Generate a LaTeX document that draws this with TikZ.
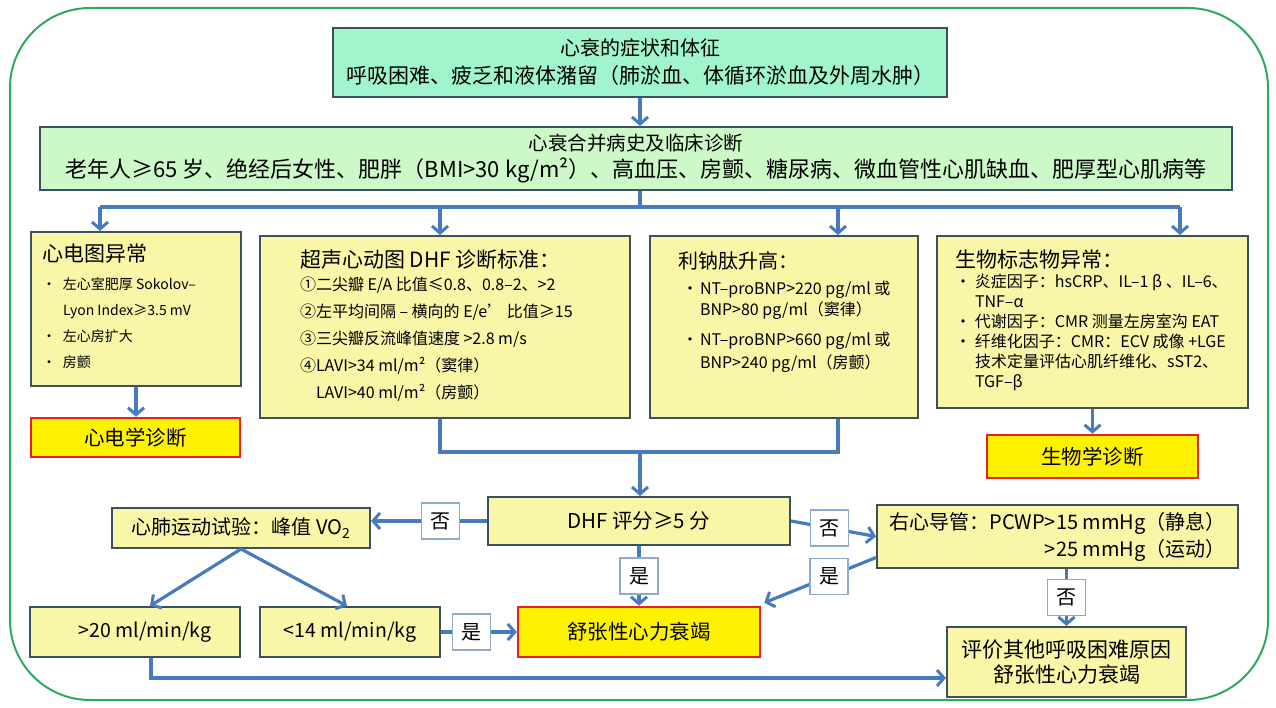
\documentclass[tikz,border=0pt]{standalone}
\usepackage{fontspec}
\setmainfont{Noto Sans CJK SC}
\usetikzlibrary{arrows.meta,calc}
\definecolor{grn}{RGB}{45,170,95}
\definecolor{bord}{RGB}{60,80,100}
\definecolor{ylw}{RGB}{250,246,168}
\definecolor{mint}{RGB}{160,245,205}
\definecolor{lgrn}{RGB}{205,248,200}
\definecolor{arrc}{RGB}{72,122,190}
\definecolor{labc}{RGB}{140,170,205}
\definecolor{redc}{RGB}{232,32,32}
\newcommand\fs[2]{\fontsize{#1}{#2}\selectfont}
\newcommand\inbox[5]{\parbox[c][#2][t]{#1}{\raggedright\leftskip=#3\relax\vspace*{#4}#5}}
\tikzset{
 box/.style={draw=bord, line width=2pt, inner sep=0pt, align=center},
 ybox/.style={box, fill=ylw},
 rbox/.style={draw=redc, fill=yellow, line width=2.5pt, inner sep=0pt, align=center, font=\fs{20.5}{24}},
 lab/.style={draw=labc, fill=white, line width=1.3pt, minimum width=38pt, minimum height=36pt, inner sep=0pt, font=\fs{20}{24}},
 con/.style={draw=arrc, line width=3.2pt},
 arr/.style={con, -{Straight Barb[length=7pt,width=16pt,line width=3pt]}},
}
\begin{document}
\begin{tikzpicture}[x=1pt,y=-1pt]
\useasboundingbox (0,0) rectangle (1276,708);
\fill[white] (0,0) rectangle (1276,708);
\draw[grn, line width=2pt, rounded corners=80pt] (10,8) rectangle (1268,700);

% top boxes
\node[box, fill=mint, minimum width=614pt, minimum height=69pt, font=\fs{21}{28}] (sym) at (640,62.5)
 {{\fs{20}{28}心衰的症状和体征}\\呼吸困难、疲乏和液体潴留（肺淤血、体循环淤血及外周水肿）};
\node[box, fill=lgrn, minimum width=1192pt, minimum height=63pt, font=\fs{19.5}{27}] (hist) at (636,158.5)
 {心衰合并病史及临床诊断\\{\fs{22}{27}老年人≥65 岁、绝经后女性、肥胖（BMI>30 kg/m²）、高血压、房颤、糖尿病、微血管性心肌缺血、肥厚型心肌病等}};

% four criteria boxes
\node[ybox] (ecg) at (136,309) {\inbox{210pt}{154pt}{11pt}{12pt}{%
{\fs{21}{26}心电图异常\par}
{\fs{14}{28}\makebox[21pt][l]{·}左心室肥厚 Sokolov–\par}
{\fs{14}{26}\hspace*{21pt}Lyon Index≥3.5 mV\par
\makebox[21pt][l]{·}左心房扩大\par
\makebox[21pt][l]{·}房颤\par}}};

\node[ybox] (echo) at (445,327) {\inbox{370pt}{182pt}{40pt}{14pt}{%
{\fs{21}{26}超声心动图 DHF 诊断标准：\par}
{\fs{16}{23}①二尖瓣 E/A 比值≤0.8、0.8–2、>2\par}
{\fs{16}{27}②左平均间隔 – 横向的 E/e’ 比值≥15\par
③三尖瓣反流峰值速度 >2.8 m/s\par
④LAVI>34 ml/m²（窦律）\par
\hspace*{16pt}LAVI>40 ml/m²（房颤）\par}}};

\node[ybox] (np) at (784,327) {\inbox{268pt}{182pt}{28pt}{16pt}{%
{\fs{20}{26}利钠肽升高：\par}
{\fs{16}{26}\hspace*{4pt}\makebox[18pt][l]{•}NT–proBNP>220 pg/ml 或\par}
{\fs{16}{21}\hspace*{22pt}BNP>80 pg/ml（窦律）\par}
{\fs{16}{30}\hspace*{4pt}\makebox[18pt][l]{•}NT–proBNP>660 pg/ml 或\par}
{\fs{16}{23}\hspace*{22pt}BNP>240 pg/ml（房颤）\par}}};

\node[ybox] (bio) at (1092.5,322) {\inbox{311pt}{172pt}{18pt}{14pt}{%
{\fs{21}{26}生物标志物异常：\par}
{\fs{16}{20}\makebox[20pt][l]{·}炎症因子：hsCRP、IL–1 β 、IL–6、\par
\hspace*{20pt}TNF–α\par
\makebox[20pt][l]{·}代谢因子：CMR 测量左房室沟 EAT\par
\makebox[20pt][l]{·}纤维化因子：CMR：ECV 成像 +LGE\par
\hspace*{20pt}技术定量评估心肌纤维化、sST2、\par
\hspace*{20pt}TGF–β\par}}};

\node[rbox, minimum width=209pt, minimum height=39pt] (ecgd) at (135.5,437.5) {心电学诊断};
\node[rbox, minimum width=211pt, minimum height=43pt] (biod) at (1092.5,456.5) {生物学诊断};

% lower part
\node[ybox, minimum width=302pt, minimum height=48pt, font=\fs{20.5}{24}] (dhf) at (639,521) {DHF 评分≥5 分};
\node[ybox, minimum width=258pt, minimum height=40pt, font=\fs{20}{24}] (cpet) at (241,528) {心肺运动试验：峰值 VO\textsubscript{2}};
\node[ybox, minimum width=361pt, minimum height=63pt, font=\fs{20}{27}, align=right] (rhc) at (1057.5,536.5) {右心导管：PCWP>15 mmHg（静息）\\>25 mmHg（运动）};
\node[ybox, minimum width=210pt, minimum height=50pt, font=\fs{19.5}{24}] (g20) at (135,632) {\hspace*{20pt}>20 ml/min/kg};
\node[ybox, minimum width=180pt, minimum height=50pt, font=\fs{19.5}{24}] (l14) at (350,632) {<14 ml/min/kg};
\node[rbox, minimum width=242pt, minimum height=50pt] (diag) at (639,632) {舒张性心力衰竭};
\node[ybox, minimum width=239pt, minimum height=70pt, font=\fs{21}{25}] (eval) at (1066.5,662) {评价其他呼吸困难原因\\舒张性心力衰竭};

% connectors
\draw[arr] (sym.south) -- (sym.south |- hist.north);
\coordinate (bus) at (640,207);
\coordinate (bL) at (100,207);
\coordinate (b2) at (440,207);
\coordinate (b3) at (838,207);
\coordinate (bR) at (1180,207);
\draw[con] (bus |- hist.south) -- (bus);
\draw[con] (bL) -- (bR);
\draw[arr] (bL) -- (bL |- ecg.north);
\draw[arr] (b2) -- (b2 |- echo.north);
\draw[arr] (b3) -- (b3 |- np.north);
\draw[arr] (bR) -- (bR |- bio.north);

\draw[arr] (ecg.south) -- (ecg.south |- ecgd.north);
\draw[arr] (bio.south) -- (bio.south |- biod.north);

\coordinate (jL) at (440,452);
\coordinate (jM) at (640,452);
\coordinate (jR) at (838,452);
\draw[con] (jL |- echo.south) -- (jL) -- (jR) -- (jR |- np.south);
\draw[arr] (jM) -- (jM |- dhf.north);

\draw[arr] (dhf.west) -- node[lab, pos=0.4] (n1) {否} (dhf.west -| cpet.east);
\draw[arr] (dhf.east) -- node[lab, pos=0.45] (n2) {否} (rhc.west);
\draw[arr] (dhf.south) -- node[lab] (n3) {是} (dhf.south |- diag.north);
\draw[arr] ([yshift=-21pt]rhc.west) -- node[lab, pos=0.42] (n4) {是} ([xshift=3pt,yshift=3pt]diag.north east);
\draw[arr] (cpet.south) -- ([xshift=15pt]g20.north);
\draw[arr] (cpet.south) -- ([xshift=-3pt]l14.north);
\draw[arr] (l14.east) -- node[lab, pos=0.4] (n5) {是} (diag.west);
\draw[arr] (eval.north |- rhc.south) -- node[lab] (n6) {否} (eval.north);
\coordinate (c20) at (151,678);
\draw[arr] (g20.south -| c20) -- (c20) -- (c20 -| eval.west);
\end{tikzpicture}
\end{document}
